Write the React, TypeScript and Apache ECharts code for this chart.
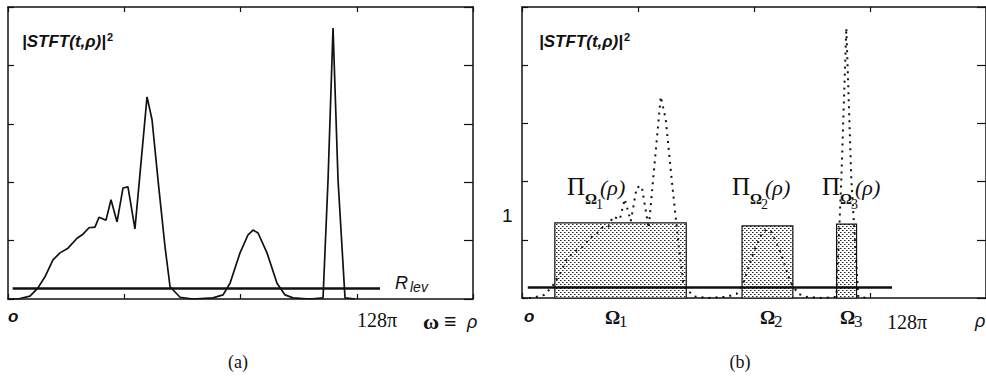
import React, { useEffect, useRef } from 'react';
import * as echarts from 'echarts';

// spectrum |STFT(t,ρ)|² sampled along the frequency axis (axis units: 0..400, tick every 100; 128π at 300)
const spectrumX = [0, 8.6, 18.9, 25.8, 31.8, 38.7, 44.7, 51.6, 59.4, 64.5, 69.7, 74.8, 78.3, 84.3, 88.6, 93.8, 98.9, 103.2, 109.2, 119.6, 123.9, 129.5, 135.1, 139.4, 148.0, 159.1, 176.3, 185.0, 191.0, 199.6, 206.5, 210.8, 215.1, 222.8, 231.4, 238.3, 245.2, 259.8, 271.0, 275.3, 279.6, 283.9, 289.9, 298.5];
const spectrumY = [0, 0, 0.05, 0.19, 0.38, 0.67, 0.79, 0.87, 1.04, 1.11, 1.22, 1.23, 1.40, 1.35, 1.70, 1.32, 1.90, 1.92, 1.20, 3.46, 3.07, 1.95, 0.89, 0.21, 0.03, 0, 0.02, 0.07, 0.27, 0.79, 1.10, 1.18, 1.13, 0.79, 0.27, 0.07, 0.02, 0, 0.02, 2.04, 4.64, 2.04, 0.02, 0];

// threshold R_lev
const rLevValue = 0.18;
const rLevFrom = [4, 5];
const rLevTo = [320, 319];

// bands Ω1, Ω2, Ω3 (indicator functions Π_Ω(ρ))
const bandNames = ['1', '2', '3'];
const bandStart = [28.3, 189.7, 271.2];
const bandEnd = [141.6, 233.5, 288.4];
const bandHeight = [1.29, 1.24, 1.27];

const xTicks = { min: 0, max: 400, interval: 100 };
const yTicks = { min: 0, max: 5, interval: 1 };

const INK = '#111';
const SANS = 'Liberation Sans';
const SERIF = 'Liberation Serif';

function makePattern(): string {
  const c = document.createElement('canvas');
  c.width = 4;
  c.height = 4;
  const ctx = c.getContext('2d')!;
  ctx.fillStyle = '#ffffff';
  ctx.fillRect(0, 0, 4, 4);
  ctx.fillStyle = '#222222';
  ctx.fillRect(0, 0, 1, 1);
  ctx.fillRect(2, 2, 1, 1);
  ctx.fillStyle = '#8a8a8a';
  ctx.fillRect(1, 0, 1, 1);
  ctx.fillRect(3, 2, 1, 1);
  return c.toDataURL();
}

function txt(x: number, y: number, text: string, font: string, align: string = 'left') {
  return {
    type: 'text',
    x,
    y,
    silent: true,
    style: {
      text,
      font,
      fill: INK,
      align,
      textAlign: align,
      verticalAlign: 'middle',
      textVerticalAlign: 'middle',
    },
  };
}

function title(x: number) {
  return {
    type: 'text',
    x,
    y: 41,
    silent: true,
    style: {
      text: '{a||STFT(t,ρ)|}{b|2}',
      fill: INK,
      verticalAlign: 'middle',
      textVerticalAlign: 'middle',
      rich: {
        a: { font: `italic bold 17px "${SANS}"`, fill: INK, lineHeight: 20 },
        b: { font: `bold 11px "${SANS}"`, fill: INK, verticalAlign: 'top', padding: [0, 0, 0, 1] },
      },
    },
  };
}

function axis(gridIndex: number, position: string, ticks: any, len: number) {
  return {
    type: 'value',
    gridIndex,
    position,
    min: ticks.min,
    max: ticks.max,
    interval: ticks.interval,
    axisLine: { show: true, onZero: false, lineStyle: { color: INK, width: 1.5 } },
    axisTick: { show: true, inside: true, length: len, lineStyle: { color: INK, width: 1.2 } },
    axisLabel: { show: false },
    splitLine: { show: false },
  };
}

function piLabel(x: number, sub: string): any[] {
  return [
    txt(x - 1, 186, 'Π', `25px "${SERIF}"`),
    txt(x + 17, 199, 'Ω', `bold 15px "${SERIF}"`),
    txt(x + 28, 204, sub, `14px "${SERIF}"`),
    txt(x + 32, 187, '(ρ)', `italic 22px "${SERIF}"`),
  ];
}

export default function App() {
  const ref = useRef<HTMLDivElement>(null);

  useEffect(() => {
    if (!ref.current) return;
    const chart = echarts.init(ref.current, undefined, { renderer: 'svg' });
    const spectrum = spectrumX.map((x, i) => [x, spectrumY[i]]);
    const bands = bandStart.map((s, i) => [s, bandEnd[i], bandHeight[i]]);
    const pattern = makePattern();

    const graphic: any[] = [
      // panel (a)
      title(22),
      txt(8, 316, 'o', `italic bold 17px "${SANS}"`),
      txt(357, 320, '128π', `20px "${SERIF}"`),
      txt(423, 321, 'ω', `bold 22px "${SERIF}"`),
      txt(444, 321, '≡', `bold 22px "${SERIF}"`),
      txt(467, 322, 'ρ', `italic 18px "${SANS}"`),
      txt(395, 283, 'R', `italic 18px "${SANS}"`),
      txt(410, 287, 'lev', `italic 14px "${SANS}"`),
      txt(238, 362, '(a)', `18px "${SERIF}"`, 'center'),
      // panel (b)
      title(539),
      txt(502, 215, '1', `19px "${SANS}"`),
      txt(524, 316, 'o', `italic bold 17px "${SANS}"`),
      txt(887, 322, '128π', `20px "${SERIF}"`),
      txt(975, 321, 'ρ', `italic 18px "${SANS}"`),
      txt(740, 362, '(b)', `18px "${SERIF}"`, 'center'),
      ...piLabel(568, bandNames[0]),
      ...piLabel(733, bandNames[1]),
      ...piLabel(823, bandNames[2]),
    ];
    const omegaX = [605, 760, 840];
    omegaX.forEach((x, i) => {
      graphic.push(txt(x, 317, 'Ω', `bold 19px "${SERIF}"`));
      graphic.push(txt(x + 14, 321, bandNames[i], `17px "${SERIF}"`));
    });

    chart.setOption({
      animation: false,
      backgroundColor: '#ffffff',
      grid: [
        { left: 8, top: 7, width: 465, height: 292 },
        { left: 522, top: 7, width: 466, height: 291 },
      ],
      xAxis: [
        axis(0, 'bottom', xTicks, 5),
        axis(0, 'top', xTicks, 5),
        axis(1, 'bottom', xTicks, 5),
        axis(1, 'top', xTicks, 5),
      ],
      yAxis: [
        axis(0, 'left', yTicks, 6),
        axis(0, 'right', yTicks, 9),
        axis(1, 'left', yTicks, 6),
        axis(1, 'right', yTicks, 9),
      ],
      series: [
        {
          type: 'line',
          xAxisIndex: 0,
          yAxisIndex: 0,
          data: spectrum,
          showSymbol: false,
          lineStyle: { color: INK, width: 1.7 },
          z: 3,
        },
        {
          type: 'line',
          xAxisIndex: 0,
          yAxisIndex: 0,
          data: [[rLevFrom[0], rLevValue], [rLevTo[0], rLevValue]],
          showSymbol: false,
          lineStyle: { color: INK, width: 2.5 },
          z: 4,
        },
        {
          type: 'custom',
          xAxisIndex: 2,
          yAxisIndex: 2,
          data: bands,
          encode: { x: [0, 1], y: 2 },
          z: 2,
          renderItem: (params: any, api: any) => {
            const p0 = api.coord([api.value(0), api.value(2)]);
            const p1 = api.coord([api.value(1), 0]);
            return {
              type: 'rect',
              shape: { x: p0[0], y: p0[1], width: p1[0] - p0[0], height: p1[1] - p0[1] },
              style: {
                fill: { image: pattern, repeat: 'repeat', imageWidth: 4, imageHeight: 4 },
                stroke: INK,
                lineWidth: 1.2,
              },
            };
          },
        },
        {
          type: 'line',
          xAxisIndex: 2,
          yAxisIndex: 2,
          data: spectrum,
          showSymbol: false,
          lineStyle: { color: INK, width: 2, type: [2, 5] },
          z: 3,
        },
        {
          type: 'line',
          xAxisIndex: 2,
          yAxisIndex: 2,
          data: [[rLevFrom[1], rLevValue], [rLevTo[1], rLevValue]],
          showSymbol: false,
          lineStyle: { color: INK, width: 2.5 },
          z: 4,
        },
      ],
      graphic,
    });
    return () => chart.dispose();
  }, []);

  return (
    <div
      ref={ref}
      style={{ position: 'fixed', left: 0, top: 0, width: 986, height: 379, background: '#fff' }}
    />
  );
}
